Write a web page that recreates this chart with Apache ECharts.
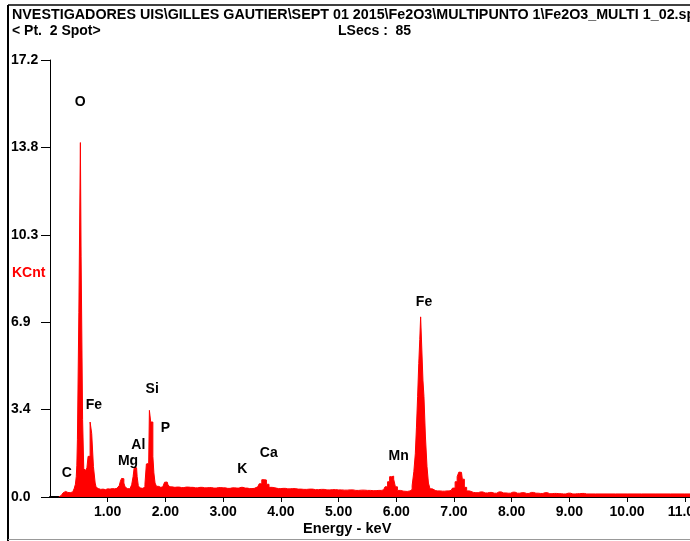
<!DOCTYPE html>
<html><head><meta charset="utf-8">
<script src="https://cdn.jsdelivr.net/npm/echarts@6/dist/echarts.min.js"></script>
<style>html,body{margin:0;padding:0;background:#fff}#c{width:690px;height:541px}</style>
</head><body><div id="c"></div><script>
// ---- text ----
const titleLine1 = "NVESTIGADORES UIS\\GILLES GAUTIER\\SEPT 01 2015\\Fe2O3\\MULTIPUNTO 1\\Fe2O3_MULTI 1_02.spc";
const titleLine2a = "< Pt.  2 Spot>";
const titleLine2b = "LSecs :  85";
const yAxisTitle = "KCnt";
const xAxisTitle = "Energy - keV";

// ---- axis ranges ----
const xMin = 0, xMax = 11.09, xStep = 1;
const yMin = 0, yMax = 17.2, yStep = 3.44;

// ---- spectrum (energy in keV, counts in KCnt) ----
const energyKeV = [
 0.15,0.18,0.21,0.24,0.26,0.28,0.30,0.32,0.35,0.38,0.41,0.43,0.45,0.46,0.47,0.48,0.495,0.505,0.52,0.533,
 0.545,0.56,0.57,0.58,0.59,0.61,0.63,0.65,0.67,0.69,0.70,0.715,0.73,0.745,0.76,0.775,0.79,0.81,0.84,0.88,
 0.92,0.96,1.00,1.04,1.08,1.12,1.16,1.19,1.21,1.23,1.25,1.27,1.29,1.31,1.34,1.37,1.40,1.43,1.45,1.47,
 1.50,1.52,1.54,1.57,1.60,1.63,1.66,1.68,1.71,1.735,1.755,1.775,1.79,1.81,1.83,1.86,1.90,1.94,1.97,2.00,
 2.03,2.06,2.09,2.13,2.20,2.28,2.36,2.44,2.52,2.60,2.68,2.76,2.84,2.92,3.00,3.08,3.16,3.24,3.31,3.38,
 3.46,3.54,3.60,3.65,3.69,3.73,3.77,3.82,3.88,3.96,4.04,4.12,4.20,4.30,4.40,4.50,4.60,4.70,4.80,4.90,
 5.00,5.10,5.20,5.30,5.40,5.50,5.60,5.70,5.78,5.83,5.87,5.90,5.94,5.97,6.00,6.04,6.10,6.16,6.22,6.26,
 6.29,6.32,6.34,6.36,6.38,6.40,6.415,6.43,6.455,6.47,6.49,6.52,6.545,6.57,6.60,6.65,6.72,6.80,6.88,6.95,
 7.00,7.04,7.07,7.10,7.13,7.16,7.20,7.24,7.30,7.38,7.46,7.54,7.62,7.70,7.78,7.86,7.94,8.02,8.10,8.18,
 8.26,8.34,8.42,8.50,8.58,8.66,8.74,8.82,8.90,8.98,9.06,9.14,9.22,9.30,9.60,10.0,10.5,11.0,11.5,12.0
];
const kcnt = [
 0.00,0.06,0.12,0.16,0.22,0.26,0.24,0.18,0.17,0.20,0.26,0.34,0.50,0.80,1.25,2.25,2.25,7.25,7.25,13.95,
 9.45,9.40,3.05,3.00,1.10,1.05,1.10,1.15,1.60,1.60,2.95,2.95,2.50,2.45,1.20,1.15,0.55,0.38,0.33,0.30,
 0.31,0.29,0.32,0.31,0.33,0.32,0.34,0.38,0.45,0.62,0.73,0.72,0.55,0.40,0.33,0.32,0.36,0.48,0.80,1.18,
 1.15,0.80,0.45,0.36,0.34,0.38,0.50,1.30,1.32,3.41,2.95,2.95,1.60,0.95,0.55,0.42,0.38,0.40,0.46,0.58,
 0.59,0.48,0.40,0.38,0.39,0.37,0.39,0.38,0.36,0.38,0.36,0.37,0.35,0.37,0.36,0.34,0.36,0.35,0.38,0.35,
 0.33,0.34,0.40,0.52,0.68,0.67,0.50,0.38,0.35,0.33,0.34,0.32,0.33,0.31,0.30,0.31,0.29,0.30,0.28,0.29,
 0.28,0.27,0.28,0.26,0.27,0.26,0.25,0.26,0.28,0.40,0.60,0.80,0.82,0.70,0.40,0.26,0.23,0.22,0.24,0.30,
 0.45,1.00,1.70,2.75,3.95,5.25,6.20,7.09,7.05,4.60,3.95,2.40,1.20,0.55,0.32,0.25,0.24,0.23,0.24,0.26,
 0.35,0.60,0.80,0.98,0.97,0.70,0.38,0.24,0.18,0.17,0.20,0.16,0.18,0.15,0.20,0.16,0.15,0.19,0.15,0.17,
 0.14,0.18,0.15,0.14,0.17,0.13,0.14,0.13,0.12,0.15,0.12,0.13,0.14,0.12,0.12,0.12,0.12,0.12,0.12,0.12
];

// ---- element labels (placed in data units) ----
const peakNames = ["C","O","Fe","Mg","Al","Si","P","K","Ca","Mn","Fe"];
const peakKeV   = [0.30,0.53,0.77,1.36,1.54,1.78,2.01,3.34,3.80,6.05,6.49];
const peakLabelKcnt = [0.92,15.52,3.61,1.41,2.01,4.23,2.69,1.08,1.71,1.60,7.64];

const FONT = '"Liberation Sans", Arial, sans-serif';
const chart = echarts.init(document.getElementById('c'), null, {renderer: 'canvas'});

const spectrum = energyKeV.map((e, i) => [e, kcnt[i]]);
const peaks = peakNames.map((n, i) => ({name: n, value: [peakKeV[i], peakLabelKcnt[i]]}));

chart.setOption({
  animation: false,
  backgroundColor: '#ffffff',
  grid: {left: 50, right: 0, top: 60, bottom: 44, containLabel: false, outerBoundsMode: 'none'},
  xAxis: {
    type: 'value', min: xMin, max: xMax, interval: xStep,
    axisLine: {show: true, lineStyle: {color: '#000', width: 2}},
    axisTick: {show: true, length: 5, lineStyle: {color: '#000', width: 1}},
    axisLabel: {show: true, margin: 8, color: '#000', fontFamily: FONT, fontWeight: 'bold', fontSize: 14,
      showMinLabel: false, showMaxLabel: false, hideOverlap: false, formatter: v => v.toFixed(2)},
    splitLine: {show: false}
  },
  yAxis: {
    type: 'value', min: yMin, max: yMax, interval: yStep,
    axisLine: {show: true, lineStyle: {color: '#000', width: 1}},
    axisTick: {show: true, length: 9, lineStyle: {color: '#000', width: 1}},
    axisLabel: {show: true, margin: 39, align: 'left', color: '#000', fontFamily: FONT, fontWeight: 'bold', fontSize: 14,
      formatter: v => v.toFixed(1)},
    splitLine: {show: false}
  },
  series: [
    {
      type: 'line', data: spectrum, step: 'middle', showSymbol: false, symbol: 'none',
      lineStyle: {color: '#ff0000', width: 1}, areaStyle: {color: '#ff0000', opacity: 1},
      itemStyle: {color: '#ff0000'}, silent: true, z: 2
    },
    {
      type: 'scatter', data: peaks, symbol: 'circle', symbolSize: 1, silent: true, z: 3,
      itemStyle: {color: 'rgba(0,0,0,0)'},
      label: {show: true, position: [0, 0], align: 'center', verticalAlign: 'middle',
        formatter: p => p.name, color: '#000', opacity: 1, textBorderWidth: 0,
        fontFamily: FONT, fontWeight: 'bold', fontSize: 14}
    }
  ],
  graphic: [
    {type: 'line', shape: {x1: 8, y1: 5, x2: 690, y2: 5}, style: {stroke: '#000', lineWidth: 1.5}},
    {type: 'line', shape: {x1: 8, y1: 5, x2: 8, y2: 541}, style: {stroke: '#000', lineWidth: 2}},
    {type: 'line', shape: {x1: 8, y1: 539.5, x2: 690, y2: 539.5}, style: {stroke: '#999', lineWidth: 1}},
    {type: 'text', left: 12, top: 8, style: {text: titleLine1, fill: '#000', font: 'bold 14.3px ' + FONT}},
    {type: 'text', left: 12, top: 24, style: {text: titleLine2a, fill: '#000', font: 'bold 14px ' + FONT}},
    {type: 'text', left: 338, top: 24, style: {text: titleLine2b, fill: '#000', font: 'bold 14px ' + FONT}},
    {type: 'text', left: 12, top: 266, style: {text: yAxisTitle, fill: '#ff0000', font: 'bold 14px ' + FONT}},
    {type: 'text', left: 303, top: 521, style: {text: xAxisTitle, fill: '#000', font: 'bold 14.6px ' + FONT}}
  ]
});
</script></body></html>
